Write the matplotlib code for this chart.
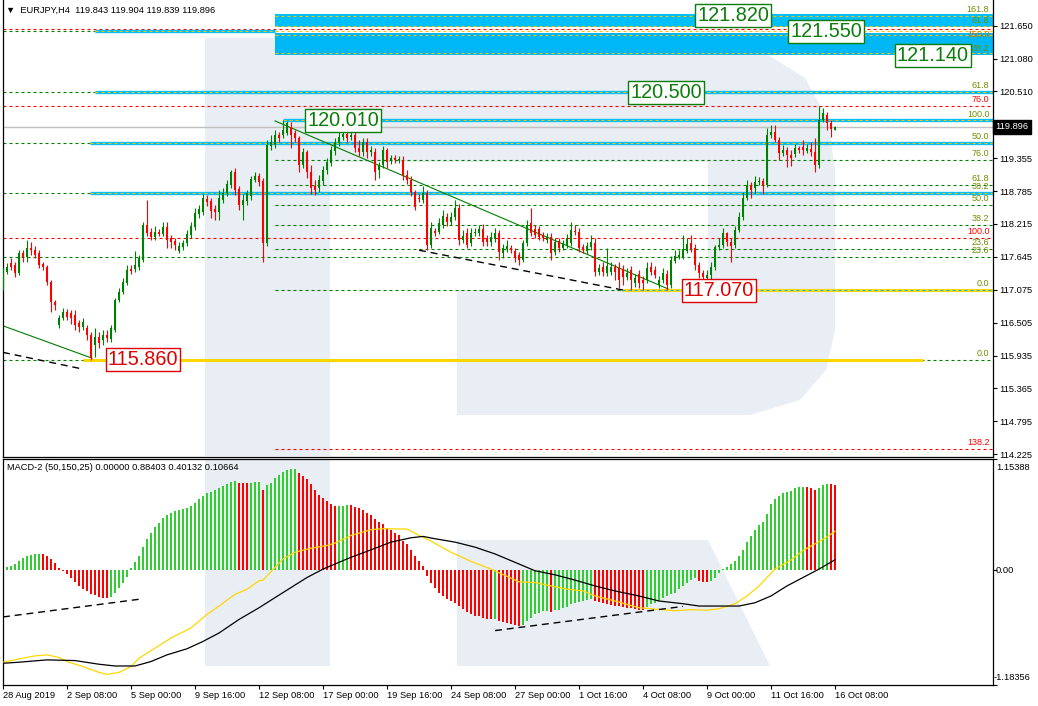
import matplotlib.pyplot as plt
from matplotlib.patches import Polygon, Rectangle
from matplotlib.transforms import blended_transform_factory

plt.rcParams['font.family'] = ['Liberation Sans', 'DejaVu Sans']

W, H = 1038, 706

# EURJPY H4 candles (28 Aug 2019 .. 16 Oct 2019)
opens = [
    117.12, 117.38, 117.54, 117.50, 117.37, 117.71, 117.64, 117.80, 117.76, 117.71,
    117.52, 117.47, 117.21, 116.86, 116.46, 116.59, 116.69, 116.67, 116.64, 116.50,
    116.43, 116.41, 116.29, 116.12, 116.26, 116.20, 116.29, 116.22, 116.38, 116.90,
    117.04, 117.19, 117.43, 117.43, 117.47, 117.59, 118.20, 118.08, 117.99, 118.08,
    118.04, 118.16, 117.97, 117.92, 117.75, 117.82, 117.88, 118.02, 118.16, 118.39,
    118.42, 118.65, 118.61, 118.47, 118.42, 118.63, 118.75, 118.89, 119.11, 118.82,
    118.54, 118.61, 118.70, 118.98, 119.05, 118.96, 117.88, 119.57, 119.58, 119.76,
    119.76, 119.79, 119.90, 119.79, 119.70, 119.24, 119.46, 119.11, 118.87, 118.84,
    118.96, 119.15, 119.27, 119.48, 119.62, 119.72, 119.77, 119.72, 119.76, 119.53,
    119.46, 119.64, 119.46, 119.46, 119.15, 119.24, 119.50, 119.31, 119.36, 119.32,
    119.32, 119.06, 118.98, 118.77, 118.66, 118.63, 118.75, 117.85, 118.09, 118.08,
    118.20, 118.34, 118.25, 118.34, 118.49, 117.94, 118.06, 117.88, 118.06, 118.06,
    118.13, 117.97, 117.90, 117.95, 118.06, 117.71, 117.78, 117.80, 117.75, 117.68,
    117.59, 117.88, 118.23, 118.13, 118.13, 118.02, 117.94, 117.99, 117.73, 117.92,
    117.80, 117.85, 117.88, 118.09, 118.08, 117.82, 117.75, 117.82, 117.88, 117.38,
    117.47, 117.37, 117.38, 117.47, 117.45, 117.43, 117.30, 117.42, 117.19, 117.35,
    117.24, 117.24, 117.47, 117.42, 117.16, 117.24, 117.35, 117.16, 117.57, 117.64,
    117.64, 117.75, 117.88, 117.80, 117.50, 117.37, 117.28, 117.33, 117.47, 117.82,
    117.85, 118.06, 117.90, 117.85, 118.11, 118.34, 118.66, 118.89, 118.84, 118.94,
    118.96, 118.89, 119.76, 119.81, 119.67, 119.44, 119.50, 119.41, 119.43, 119.53,
    119.55, 119.48, 119.51, 119.46, 119.24, 120.02, 120.10, 119.96, 119.843,
]
highs = [
    117.45, 117.54, 117.63, 117.56, 117.76, 117.76, 117.94, 117.90, 117.83, 117.76,
    117.56, 117.50, 117.24, 116.90, 116.64, 116.76, 116.74, 116.72, 116.72, 116.55,
    116.59, 116.46, 116.34, 116.41, 116.34, 116.38, 116.38, 116.46, 116.93, 117.11,
    117.28, 117.50, 117.50, 117.75, 117.68, 118.25, 118.63, 118.15, 118.18, 118.13,
    118.25, 118.25, 118.02, 117.97, 117.90, 117.94, 118.11, 118.25, 118.49, 118.54,
    118.73, 118.72, 118.66, 118.54, 118.80, 118.84, 118.98, 119.15, 119.18, 118.87,
    118.73, 118.80, 119.05, 119.11, 119.10, 119.01, 119.67, 119.76, 119.84, 119.81,
    120.01, 120.00, 119.98, 119.84, 119.74, 119.53, 119.50, 119.24, 118.98, 119.06,
    119.22, 119.36, 119.57, 119.70, 119.81, 119.84, 119.83, 119.84, 119.81, 119.67,
    119.70, 119.70, 119.57, 119.53, 119.29, 119.57, 119.53, 119.41, 119.41, 119.39,
    119.39, 119.15, 119.05, 118.80, 118.73, 118.87, 118.80, 118.25, 118.15, 118.32,
    118.46, 118.40, 118.42, 118.63, 118.56, 118.11, 118.15, 118.15, 118.15, 118.20,
    118.21, 118.02, 118.08, 118.15, 118.11, 117.87, 117.94, 117.85, 117.80, 117.73,
    117.94, 118.28, 118.49, 118.20, 118.18, 118.08, 118.06, 118.06, 117.97, 117.97,
    117.94, 118.04, 118.25, 118.20, 118.15, 117.87, 117.90, 118.02, 117.97, 117.52,
    117.56, 117.80, 117.56, 117.52, 117.56, 117.50, 117.45, 117.49, 117.35, 117.42,
    117.31, 117.56, 117.56, 117.49, 117.31, 117.45, 117.42, 117.66, 117.76, 117.76,
    118.02, 117.97, 118.02, 117.87, 117.56, 117.42, 117.42, 117.56, 117.85, 117.97,
    118.15, 118.08, 117.97, 118.18, 118.42, 118.77, 118.98, 118.94, 119.05, 119.03,
    119.01, 119.88, 119.93, 119.93, 119.72, 119.58, 119.55, 119.50, 119.60, 119.57,
    119.67, 119.60, 119.64, 119.70, 120.26, 120.22, 120.16, 120.02, 119.904,
]
lows = [
    117.07, 117.35, 117.42, 117.30, 117.33, 117.56, 117.56, 117.68, 117.63, 117.45,
    117.42, 117.16, 116.69, 116.72, 116.41, 116.55, 116.55, 116.48, 116.38, 116.34,
    116.38, 116.20, 115.86, 115.91, 116.07, 116.12, 116.17, 116.17, 116.34, 116.86,
    117.00, 117.16, 117.35, 117.38, 117.42, 117.56, 118.01, 117.94, 117.94, 118.01,
    118.01, 117.80, 117.80, 117.76, 117.71, 117.76, 117.83, 117.97, 118.11, 118.32,
    118.37, 118.53, 118.32, 118.28, 118.28, 118.58, 118.70, 118.84, 118.72, 118.46,
    118.28, 118.54, 118.63, 118.94, 118.87, 117.56, 117.83, 119.50, 119.53, 119.64,
    119.70, 119.76, 119.53, 119.64, 119.11, 119.18, 119.01, 118.73, 118.72, 118.77,
    118.89, 119.08, 119.22, 119.41, 119.57, 119.67, 119.64, 119.67, 119.46, 119.39,
    119.39, 119.36, 119.39, 118.98, 119.01, 119.18, 119.18, 119.25, 119.27, 119.27,
    118.98, 118.91, 118.70, 118.46, 118.60, 118.58, 117.76, 117.80, 118.01, 118.04,
    118.15, 118.18, 118.20, 118.28, 117.85, 117.88, 117.80, 117.83, 118.01, 118.01,
    117.83, 117.83, 117.83, 117.90, 117.59, 117.63, 117.73, 117.71, 117.56, 117.50,
    117.56, 117.83, 118.01, 117.97, 117.94, 117.92, 117.88, 117.59, 117.68, 117.73,
    117.76, 117.80, 117.83, 118.02, 117.73, 117.71, 117.70, 117.76, 117.31, 117.33,
    117.31, 117.31, 117.33, 117.24, 117.11, 117.16, 117.24, 117.07, 117.12, 117.11,
    117.07, 117.19, 117.33, 117.28, 117.11, 117.19, 117.07, 117.11, 117.54, 117.61,
    117.61, 117.71, 117.73, 117.42, 117.28, 117.11, 117.07, 117.24, 117.42, 117.76,
    117.80, 117.83, 117.56, 117.80, 118.08, 118.28, 118.63, 118.66, 118.75, 118.89,
    118.73, 118.86, 119.70, 119.64, 119.32, 119.39, 119.20, 119.22, 119.37, 119.44,
    119.41, 119.44, 119.39, 119.11, 119.18, 119.98, 119.84, 119.72, 119.839,
]
closes = [
    117.38, 117.47, 117.47, 117.37, 117.71, 117.64, 117.80, 117.76, 117.68, 117.50,
    117.47, 117.21, 116.86, 116.81, 116.59, 116.69, 116.60, 116.59, 116.46, 116.43,
    116.52, 116.29, 115.89, 116.26, 116.15, 116.29, 116.24, 116.41, 116.90, 117.04,
    117.21, 117.42, 117.40, 117.50, 117.63, 118.20, 118.06, 117.99, 118.08, 118.04,
    118.16, 117.94, 117.90, 117.85, 117.83, 117.88, 118.04, 118.18, 118.40, 118.47,
    118.66, 118.60, 118.44, 118.42, 118.66, 118.75, 118.91, 119.11, 118.80, 118.54,
    118.63, 118.75, 118.99, 119.05, 118.94, 117.88, 119.58, 119.64, 119.76, 119.70,
    119.84, 119.96, 119.76, 119.70, 119.24, 119.46, 119.11, 118.84, 118.80, 118.98,
    119.15, 119.29, 119.50, 119.64, 119.72, 119.77, 119.70, 119.76, 119.53, 119.46,
    119.64, 119.46, 119.50, 119.11, 119.24, 119.50, 119.29, 119.36, 119.32, 119.34,
    119.06, 118.98, 118.77, 118.51, 118.65, 118.75, 117.85, 118.15, 118.06, 118.23,
    118.35, 118.25, 118.34, 118.49, 117.94, 118.01, 117.85, 118.06, 118.08, 118.13,
    117.90, 117.90, 117.99, 118.06, 117.73, 117.80, 117.83, 117.76, 117.63, 117.59,
    117.88, 118.20, 118.06, 118.02, 117.99, 117.97, 117.99, 117.71, 117.90, 117.80,
    117.88, 117.97, 118.11, 118.08, 117.80, 117.76, 117.83, 117.90, 117.38, 117.45,
    117.38, 117.49, 117.47, 117.38, 117.24, 117.30, 117.37, 117.24, 117.28, 117.19,
    117.19, 117.45, 117.38, 117.33, 117.24, 117.37, 117.16, 117.59, 117.66, 117.68,
    117.78, 117.87, 117.78, 117.50, 117.37, 117.30, 117.33, 117.47, 117.82, 117.85,
    118.06, 117.90, 117.83, 118.11, 118.34, 118.66, 118.89, 118.80, 118.94, 118.96,
    118.89, 119.76, 119.81, 119.67, 119.44, 119.50, 119.41, 119.36, 119.53, 119.50,
    119.50, 119.53, 119.46, 119.24, 120.02, 120.14, 119.96, 119.86, 119.896,
]

# MACD-2 (50,150,25) histogram per candle
macd_hist = [
    0.021, 0.035, 0.045, 0.063, 0.090, 0.125, 0.150, 0.160, 0.165, 0.168,
    0.166, 0.150, 0.115, 0.070, 0.021, -0.014, -0.042, -0.077, -0.122, -0.164,
    -0.198, -0.216, -0.244, -0.257, -0.275, -0.285, -0.292, -0.278, -0.233, -0.181,
    -0.129, -0.070, 0.021, 0.080, 0.150, 0.237, 0.324, 0.386, 0.445, 0.491,
    0.543, 0.574, 0.595, 0.609, 0.619, 0.630, 0.644, 0.665, 0.696, 0.731,
    0.765, 0.800, 0.811, 0.828, 0.852, 0.870, 0.887, 0.908, 0.926, 0.905,
    0.898, 0.897, 0.905, 0.908, 0.915, 0.828, 0.880, 0.905, 0.950, 0.985,
    1.013, 1.030, 1.044, 1.045, 1.009, 0.974, 0.939, 0.891, 0.828, 0.776,
    0.748, 0.713, 0.682, 0.661, 0.662, 0.666, 0.670, 0.668, 0.654, 0.637,
    0.619, 0.592, 0.567, 0.525, 0.498, 0.480, 0.438, 0.411, 0.383, 0.358,
    0.299, 0.271, 0.209, 0.150, 0.090, 0.045, -0.059, -0.129, -0.188, -0.233,
    -0.268, -0.303, -0.320, -0.338, -0.372, -0.407, -0.431, -0.459, -0.477, -0.478,
    -0.494, -0.501, -0.511, -0.505, -0.529, -0.539, -0.546, -0.557, -0.564, -0.581,
    -0.564, -0.522, -0.494, -0.459, -0.442, -0.424, -0.420, -0.430, -0.418, -0.411,
    -0.397, -0.383, -0.355, -0.338, -0.327, -0.320, -0.310, -0.303, -0.318, -0.330,
    -0.345, -0.355, -0.362, -0.370, -0.375, -0.380, -0.390, -0.397, -0.405, -0.410,
    -0.412, -0.383, -0.355, -0.338, -0.320, -0.292, -0.268, -0.250, -0.233, -0.198,
    -0.164, -0.129, -0.104, -0.077, -0.118, -0.120, -0.121, -0.111, -0.077, -0.035,
    0.010, 0.035, 0.063, 0.090, 0.150, 0.209, 0.289, 0.348, 0.410, 0.463,
    0.498, 0.585, 0.682, 0.734, 0.769, 0.800, 0.811, 0.821, 0.852, 0.856,
    0.858, 0.855, 0.845, 0.828, 0.845, 0.877, 0.887, 0.886, 0.88403,
]
# indicator lines, sampled at candle indexes
yellow_idx = [0, 4, 8, 11, 14, 16, 20, 24, 26, 29, 32, 34, 38, 42, 47, 51, 54, 58,
              61, 64, 65, 68, 70, 73, 77, 81, 83, 87, 92, 95, 101, 104, 107, 112,
              117, 122, 127, 129, 133, 137, 141, 145, 148, 153, 159, 164, 168, 172,
              176, 179, 183, 186, 189, 193, 197, 200, 203, 206, 208]
yellow_val = [-0.953, -0.919, -0.887, -0.877, -0.905, -0.946, -0.999, -1.058, -1.079,
              -1.058, -0.999, -0.912, -0.807, -0.703, -0.598, -0.459, -0.372, -0.251,
              -0.198, -0.111, -0.104, 0.028, 0.115, 0.184, 0.226, 0.254, 0.278, 0.358,
              0.418, 0.428, 0.424, 0.358, 0.299, 0.184, 0.090, 0.010, -0.084, -0.122,
              -0.129, -0.164, -0.198, -0.216, -0.268, -0.320, -0.390, -0.407, -0.420,
              -0.410, -0.415, -0.400, -0.348, -0.268, -0.164, 0.010, 0.104, 0.202,
              0.271, 0.341, 0.40132]
black_idx = [0, 4, 11, 18, 24, 28, 33, 37, 41, 46, 50, 54, 59, 64, 68, 72, 76, 80,
             84, 87, 92, 97, 102, 105, 108, 113, 118, 123, 128, 133, 138, 143, 148,
             153, 159, 164, 170, 174, 179, 184, 188, 192, 196, 200, 204, 208]
black_val = [-0.964, -0.953, -0.929, -0.936, -0.974, -0.992, -0.992, -0.946, -0.877,
             -0.814, -0.738, -0.651, -0.511, -0.390, -0.285, -0.181, -0.077, 0.010,
             0.080, 0.132, 0.209, 0.289, 0.334, 0.348, 0.324, 0.289, 0.237, 0.167,
             0.080, -0.007, -0.049, -0.104, -0.164, -0.216, -0.268, -0.320, -0.348,
             -0.372, -0.372, -0.372, -0.338, -0.268, -0.164, -0.077, 0.010, 0.10664]

time_labels = ['28 Aug 2019', '2 Sep 08:00', '5 Sep 00:00', '9 Sep 16:00',
               '12 Sep 08:00', '17 Sep 00:00', '19 Sep 16:00', '24 Sep 08:00',
               '27 Sep 00:00', '1 Oct 16:00', '4 Oct 08:00', '9 Oct 00:00',
               '11 Oct 16:00', '16 Oct 08:00']
price_ticks = [121.650, 121.080, 120.510, 119.355, 118.785, 118.215, 117.645,
               117.075, 116.505, 115.935, 115.365, 114.795, 114.225]
macd_ticks = [1.15388, 0.0, -1.18356]

# Fibonacci levels and their captions
fib_prices = [121.82, 121.63, 121.59, 121.14, 120.50, 120.26, 120.01, 119.62,
              119.32, 118.89, 118.75, 118.54, 118.20, 117.97, 117.78, 117.64,
              117.07, 115.86, 114.32]
fib_texts = ['161.8', '61.8', '150.0', '38.2', '61.8', '76.0', '100.0', '50.0',
             '76.0', '61.8', '38.2', '50.0', '38.2', '100.0', '23.6', '23.6',
             '0.0', '0.0', '138.2']
tag_prices = [121.82, 121.55, 121.14, 120.50, 120.01, 117.07, 115.86]

last_price = 119.896
macd_header = 'MACD-2 (50,150,25) 0.00000 0.88403 0.40132 0.10664'
chart_header = '\u25bc  EURJPY,H4  119.843 119.904 119.839 119.896'

UP, DOWN = '#008000', '#ff0000'
H_UP, H_DOWN = '#32cd32', '#ff0000'
BLUE, GOLD = '#00bfff', '#ffc000'
OLIVE = '#6f8f00'
SHADE = '#e9edf4'
X_END = 247.375


def px_box(x0, y0, x1, y1):
    """Axes rectangle from pixel corners (y counted from the top)."""
    return [x0 / W, 1 - y1 / H, (x1 - x0) / W, (y1 - y0) / H]


fig = plt.figure(figsize=(W / 100, H / 100), dpi=100, facecolor='white')
ax = fig.add_axes(px_box(2.5, 0, 992.5, 456.5))
ax2 = fig.add_axes(px_box(2.5, 458.5, 992.5, 684.5), sharex=ax)

# broker watermark behind both panels
logo = [
    [(205, 38), (700, 38), (760, 50), (805, 78), (828, 120), (835, 170), (835, 330),
     (826, 370), (800, 400), (750, 415), (457, 415), (457, 290), (708, 290),
     (708, 162), (330, 162), (330, 456), (205, 456)],
    [(205, 458.5), (330, 458.5), (330, 666), (205, 666)],
    [(457, 540), (708, 540), (770, 666), (457, 666)],
]
for pts in logo:
    fig.patches.append(Polygon([(x / W, 1 - y / H) for x, y in pts], closed=True,
                               transform=fig.transFigure, fc=SHADE, ec='none',
                               zorder=-1))

for a in (ax, ax2):
    a.set_facecolor('none')
    a.set_xlim(-0.125, X_END)
    for s in a.spines.values():
        s.set_linewidth(0.9)
ax.spines['top'].set_visible(False)


def dashed(y, x0, color, x1=X_END):
    ax.hlines(y, x0, x1, colors=color, linestyles=(0, (2.7, 2.7)),
              linewidths=0.8, zorder=2)


def band(y, x0, x1=X_END):
    ax.hlines(y, x0, x1, colors=BLUE, linewidths=2.4, zorder=2)
    ax.hlines(y, x0, x1, colors=GOLD, linestyles=(0, (2.7, 2.7)),
              linewidths=0.8, zorder=2)


# fib zones at the top
ax.add_patch(Rectangle((68, 121.63), X_END - 68, 0.22, fc=BLUE, ec='none', zorder=1))
ax.add_patch(Rectangle((68, 121.14), X_END - 68, 0.38, fc='#00b7f5', ec='none', zorder=1))
for y in (121.82, 121.65, 121.49, 121.17, 121.565):
    ax.hlines(y, 68, X_END, colors=GOLD, linestyles=(0, (2.7, 2.7)),
              linewidths=0.8, zorder=2)
dashed(121.59, -0.125, DOWN)
dashed(121.565, -0.125, UP, 23)
band(121.565, 23, 68)

dashed(120.50, -0.125, UP, 23)
band(120.50, 23)
dashed(120.26, -0.125, DOWN)
band(120.01, 70)
ax.hlines(last_price, -0.125, X_END, colors='#c0c0c0', linewidths=1, zorder=2)
dashed(119.62, -0.125, UP, 21.75)
band(119.62, 21.75)
for y in (119.32, 118.89, 118.54, 118.20, 117.78):
    dashed(y, 68, UP)
dashed(118.75, -0.125, UP, 21.75)
band(118.75, 21.75)
dashed(117.97, -0.125, DOWN)
dashed(117.64, -0.125, UP)
dashed(117.07, 68, UP, 154.75)
ax.hlines(117.07, 154.75, X_END, colors='#ffd700', linewidths=2.2, zorder=2)
ax.hlines(117.07, 154.75, X_END, colors=BLUE, linestyles=(0, (2.7, 2.7)),
          linewidths=0.8, zorder=2)
dashed(115.86, -0.125, UP)
ax.hlines(115.86, 20, 230, colors='#ffd700', linewidths=2.2, zorder=2)
dashed(114.32, 68, DOWN)

red_caps = {120.26, 117.97, 114.32}
for p, t in zip(fib_prices, fib_texts):
    col = DOWN if p in red_caps else ('#c87800' if t == '150.0' else OLIVE)
    if t == '150.0':
        # sits just under the crowded 61.8 caption
        ax.text(246.6, p - 0.01, t, color=col, fontsize=6.5, ha='right',
                va='top', zorder=5)
    else:
        ax.text(246.6, p + 0.03, t, color=col, fontsize=6.5, ha='right',
                va='bottom', zorder=5)

# trend lines drawn by the analyst
ax.plot([0, 22.25], [116.45, 115.89], color=UP, lw=0.8, zorder=2)
ax.plot([68, 166.25], [120.00, 117.09], color=UP, lw=0.8, zorder=2)
ax.plot([0, 20], [115.99, 115.70], color='black', lw=1, ls=(0, (5, 3.5)), zorder=2)
ax.plot([104, 155], [117.76, 117.07], color='black', lw=1, ls=(0, (5, 3.5)), zorder=2)

# candles
idx = list(range(len(closes)))
cols = [UP if c >= o else DOWN for o, c in zip(opens, closes)]
ax.vlines(idx, lows, highs, colors=cols, linewidths=0.8, zorder=3)
ax.bar(idx, [max(abs(c - o), 0.012) for o, c in zip(opens, closes)],
       bottom=[min(o, c) for o, c in zip(opens, closes)], width=0.72,
       color=cols, linewidth=0, zorder=4)

# price tags
tag_x = [182.5, 205.75, 232.5, 165.75, 85, 179, 35]
for x, p in zip(tag_x, tag_prices):
    col = '#e00000' if p < 118 else '#0a7d0a'
    ax.text(x, p, f'{p:.3f}', color=col, fontsize=14.3,
            ha='center', va='center', zorder=6,
            bbox=dict(boxstyle='square,pad=0.1', fc='white', ec=col, lw=1))

ax.set_ylim(114.186, 122.095)
ax.yaxis.tick_right()
ax.set_yticks(price_ticks, [f'{v:.3f}' for v in price_ticks])
ax.tick_params(axis='y', direction='out', length=3, width=0.8, pad=1.5,
               labelsize=6.7)
ax.tick_params(axis='x', bottom=False, labelbottom=False)
ax.annotate(f'{last_price:.3f}', xy=(1, last_price),
            xycoords=blended_transform_factory(ax.transAxes, ax.transData),
            xytext=(2.2, 0), textcoords='offset points', color='white',
            fontsize=6.7, va='center', ha='left', annotation_clip=False,
            bbox=dict(boxstyle='square,pad=0.3', fc='black', ec='black'))

# MACD panel
hcols = [H_UP] + [H_UP if v > prev else H_DOWN
                  for prev, v in zip(macd_hist[:-1], macd_hist[1:])]
ax2.bar(idx, macd_hist, width=0.72, color=hcols, linewidth=0, zorder=2)
ax2.plot(yellow_idx, yellow_val, color='#ffd700', lw=0.9, zorder=3)
ax2.plot(black_idx, black_val, color='black', lw=0.9, zorder=3)
ax2.plot([0, 34.4], [-0.485, -0.30], color='black', lw=1, ls=(0, (5, 3.5)), zorder=3)
ax2.plot([123, 170], [-0.626, -0.376], color='black', lw=1, ls=(0, (5, 3.5)), zorder=3)

ax2.set_ylim(macd_ticks[-1], macd_ticks[0])
ax2.yaxis.tick_right()
ax2.set_yticks(macd_ticks, [])
ax2.tick_params(axis='y', direction='out', length=3, width=0.8)
mtrans = blended_transform_factory(ax2.transAxes, ax2.transData)
for v, va, dy in zip(macd_ticks, ['top', 'center', 'bottom'], [-3, 0, 2]):
    txt = f'{v:.5f}' if v else '0.00'
    ax2.annotate(txt, xy=(1, v), xycoords=mtrans,
                 xytext=(2.5 if v >= 0 else 0.5, dy), textcoords='offset points',
                 fontsize=6.7, va=va, ha='left', annotation_clip=False)

ax2.set_xticks(list(range(0, len(closes), 16)), time_labels, ha='left', fontsize=6.7)
ax2.tick_params(axis='x', direction='out', length=3, width=0.8, pad=1.5)

fig.text(6 / W, 1 - 10 / H, chart_header, fontsize=6.7, va='center')
fig.text(7 / W, 1 - 468 / H, macd_header, fontsize=6.7, va='center')

fig.savefig('out.png', dpi=100)
